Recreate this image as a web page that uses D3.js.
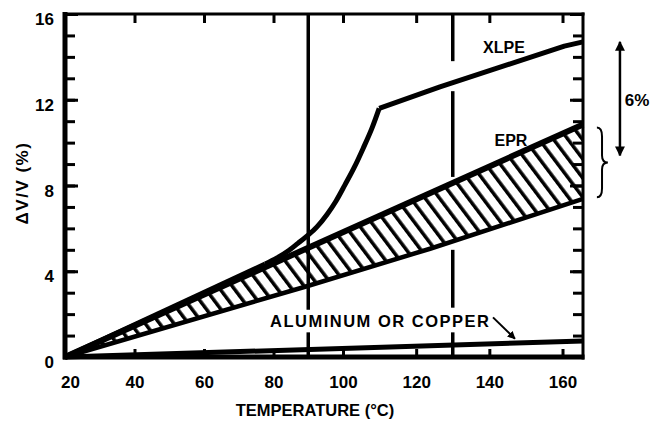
<!DOCTYPE html>
<html>
<head>
<meta charset="utf-8">
<script src="https://cdn.jsdelivr.net/npm/d3@7"></script>
<style>
    body { margin: 0; background: #fff; }
    text { font-family: 'Liberation Sans', Arial, sans-serif; font-weight: bold; fill: #000; }
</style>
</head>
<body>
<script>
// tick labels
const xTicks = [20, 40, 60, 80, 100, 120, 140, 160];
const yTicks = [0, 4, 8, 12, 16];

// curves, temperature (C) vs dV/V (%)
const metal = [{t: 20, v: 0}, {t: 165.6, v: 0.75}];
const eprUpper = [{t: 20, v: 0}, {t: 165.6, v: 10.85}];
const eprLower = [{t: 20, v: 0}, {t: 89.6, v: 3.3}, {t: 123.8, v: 5.05}, {t: 165.6, v: 7.38}];
const xlpeShared = [{t: 20, v: 0}, {t: 77.6, v: 4.34}];
const xlpeCurve = [
    {t: 77.6, v: 4.34}, {t: 81, v: 4.62}, {t: 84.5, v: 4.98}, {t: 87, v: 5.3},
    {t: 89.6, v: 5.64}, {t: 92.5, v: 6.07}, {t: 95.4, v: 6.65}, {t: 98, v: 7.28},
    {t: 100.5, v: 8.02}, {t: 103, v: 8.82}, {t: 105.5, v: 9.73}, {t: 108, v: 10.71},
    {t: 109.9, v: 11.6}
];
const xlpeStraight = [{t: 109.9, v: 11.6}, {t: 126.5, v: 12.6}, {t: 160.5, v: 14.5}, {t: 165.6, v: 14.7}];

// reference temperatures and the visible pieces of each line (in %)
const refLines = [
    {t: 90, segs: [[16, 2.2], [1.15, 0]]},
    {t: 130, segs: [[16, 13.8], [12.4, 8.4], [5.0, 2.3], [1.15, 0]]}
];

function draw() {
    const W = 650, H = 427;

    const svg = d3.select('body')
        .append('svg')
        .attr('width', W)
        .attr('height', H);

    // the printed axis is slightly stretched above 100 C
    const x = d3.scaleLinear().domain([20, 100, 165.6]).range([65, 343, 583]);
    const y = d3.scaleLinear().domain([0, 16]).range([357, 14]);

    const defs = svg.append('defs');
    defs.append('pattern')
        .attr('id', 'hatch')
        .attr('patternUnits', 'userSpaceOnUse')
        .attr('width', 11.5)
        .attr('height', 11.5)
        .attr('patternTransform', 'rotate(-37)')
        .append('rect')
        .attr('x', 0).attr('y', 0)
        .attr('width', 3.5).attr('height', 11.5)
        .attr('fill', '#000');

    defs.append('marker')
        .attr('id', 'arr')
        .attr('viewBox', '0 0 10 10')
        .attr('refX', 9).attr('refY', 5)
        .attr('markerWidth', 4).attr('markerHeight', 4)
        .attr('markerUnits', 'strokeWidth')
        .attr('orient', 'auto-start-reverse')
        .append('path')
        .attr('d', 'M0,0 L10,5 L0,10 Z')
        .attr('fill', '#000');

    const line = d3.line()
        .x(function(d) { return x(d.t); })
        .y(function(d) { return y(d.v); });

    // hatched EPR band
    const band = eprUpper.concat(eprLower.slice().reverse());
    svg.append('path')
        .attr('d', line(band) + 'Z')
        .attr('fill', 'url(#hatch)');

    // reference lines
    refLines.forEach(function(r) {
        svg.selectAll(null)
            .data(r.segs)
            .enter()
            .append('line')
            .attr('x1', x(r.t)).attr('x2', x(r.t))
            .attr('y1', function(d) { return y(d[0]); })
            .attr('y2', function(d) { return y(d[1]); })
            .attr('stroke', '#000')
            .attr('stroke-width', 3.5);
    });

    // axes ticks
    const tickStyle = function(g) {
        g.select('.domain').remove();
        g.selectAll('.tick line').attr('stroke', '#000').attr('stroke-width', 3);
        g.selectAll('.tick text').style('font-size', '17px');
    };

    svg.append('g')
        .attr('transform', 'translate(65,0)')
        .call(d3.axisLeft(y).ticks(16).tickSize(-10).tickFormat(''))
        .call(tickStyle);
    svg.append('g')
        .attr('transform', 'translate(65,0)')
        .call(d3.axisLeft(y).tickValues(yTicks).tickSize(-13).tickPadding(11))
        .call(tickStyle)
        .selectAll('text').attr('dy', '0.62em');

    svg.append('g')
        .attr('transform', 'translate(583,0)')
        .call(d3.axisRight(y).ticks(16).tickSize(-10).tickFormat(''))
        .call(tickStyle);
    svg.append('g')
        .attr('transform', 'translate(583,0)')
        .call(d3.axisRight(y).tickValues(yTicks).tickSize(-13).tickFormat(''))
        .call(tickStyle);

    const xAxis = svg.append('g')
        .attr('transform', 'translate(0,357)')
        .call(d3.axisBottom(x).tickValues(xTicks).tickSize(-8).tickPadding(19))
        .call(tickStyle);
    xAxis.select('.tick text').attr('dx', 5);

    svg.append('g')
        .attr('transform', 'translate(0,14)')
        .call(d3.axisTop(x).tickValues(xTicks.slice(1)).tickSize(-9).tickFormat(''))
        .call(tickStyle);

    // frame
    const frame = [
        {x1: 65, y1: 12, x2: 65, y2: 359.5, w: 5},
        {x1: 63, y1: 357, x2: 584.5, y2: 357, w: 5},
        {x1: 63, y1: 14, x2: 584.5, y2: 14, w: 3},
        {x1: 583, y1: 12.5, x2: 583, y2: 359.5, w: 3}
    ];
    svg.selectAll('.frame')
        .data(frame)
        .enter()
        .append('line')
        .attr('class', 'frame')
        .attr('x1', function(d) { return d.x1; })
        .attr('y1', function(d) { return d.y1; })
        .attr('x2', function(d) { return d.x2; })
        .attr('y2', function(d) { return d.y2; })
        .attr('stroke', '#000')
        .attr('stroke-width', function(d) { return d.w; });

    // curves
    const curves = [
        {pts: eprLower, w: 4.5, curve: d3.curveLinear},
        {pts: eprUpper, w: 6, curve: d3.curveLinear},
        {pts: metal, w: 5, curve: d3.curveLinear},
        {pts: xlpeShared, w: 5, curve: d3.curveLinear},
        {pts: xlpeCurve, w: 5, curve: d3.curveMonotoneX},
        {pts: xlpeStraight, w: 5, curve: d3.curveLinear}
    ];
    curves.forEach(function(c) {
        svg.append('path')
            .attr('d', line.curve(c.curve)(c.pts))
            .attr('fill', 'none')
            .attr('stroke', '#000')
            .attr('stroke-width', c.w)
            .attr('stroke-linejoin', 'round');
    });
    line.curve(d3.curveLinear);

    // curve labels
    svg.append('text')
        .attr('x', x(144)).attr('y', y(14.46))
        .attr('dy', '0.36em')
        .attr('text-anchor', 'middle')
        .style('font-size', '16px')
        .text('XLPE');

    svg.append('text')
        .attr('x', x(145.9)).attr('y', y(10.12))
        .attr('dy', '0.36em')
        .attr('text-anchor', 'middle')
        .style('font-size', '16px')
        .text('EPR');

    svg.append('text')
        .attr('x', x(79)).attr('y', y(1.68))
        .attr('dy', '0.36em')
        .style('font-size', '16.5px')
        .style('letter-spacing', '1.5px')
        .text('ALUMINUM OR COPPER');

    svg.append('line')
        .attr('x1', x(141)).attr('y1', y(1.85))
        .attr('x2', x(147)).attr('y2', y(0.85))
        .attr('stroke', '#000')
        .attr('stroke-width', 2)
        .attr('marker-end', 'url(#arr)');

    // 6% span to the right of the frame
    svg.append('line')
        .attr('x1', x(175.7)).attr('y1', y(14.7))
        .attr('x2', x(175.7)).attr('y2', y(9.4))
        .attr('stroke', '#000')
        .attr('stroke-width', 2.5)
        .attr('marker-start', 'url(#arr)')
        .attr('marker-end', 'url(#arr)');

    svg.append('text')
        .attr('x', x(180.4)).attr('y', y(11.98))
        .attr('dy', '0.36em')
        .attr('text-anchor', 'middle')
        .style('font-size', '17px')
        .text('6%');

    // brace beside the EPR band
    const yt = y(10.7), yb = y(7.45), ym = (yt + yb) / 2;
    const xa = x(169.4), xb = x(170.8), xc = x(172.4);
    svg.append('path')
        .attr('d', 'M' + xa + ',' + yt +
            ' Q' + xb + ',' + yt + ' ' + xb + ',' + (yt + 9) +
            ' L' + xb + ',' + (ym - 7) +
            ' Q' + xb + ',' + ym + ' ' + xc + ',' + ym +
            ' Q' + xb + ',' + ym + ' ' + xb + ',' + (ym + 7) +
            ' L' + xb + ',' + (yb - 9) +
            ' Q' + xb + ',' + yb + ' ' + xa + ',' + yb)
        .attr('fill', 'none')
        .attr('stroke', '#000')
        .attr('stroke-width', 2);

    // axis titles
    svg.append('text')
        .attr('x', 315).attr('y', 416)
        .attr('text-anchor', 'middle')
        .style('font-size', '16.5px')
        .text('TEMPERATURE  (°C)');

    svg.append('text')
        .attr('transform', 'translate(28,183) rotate(-90)')
        .attr('text-anchor', 'middle')
        .style('font-size', '17px')
        .style('letter-spacing', '1.5px')
        .text('ΔV/V (%)');
}

draw();
</script>
</body>
</html>
